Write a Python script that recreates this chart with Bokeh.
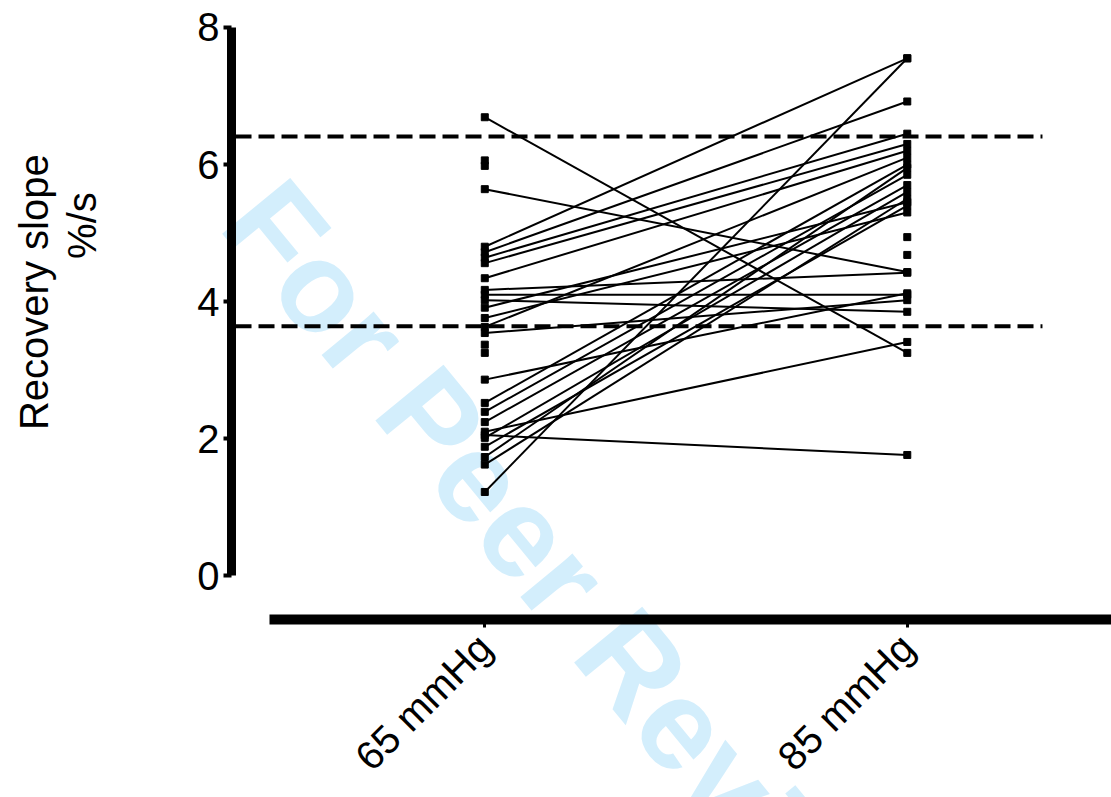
import math

from bokeh.core.properties import value
from bokeh.embed import file_html
from bokeh.models import ColumnDataSource, FixedTicker, LinearAxis, Range1d
from bokeh.plotting import figure
from bokeh.resources import INLINE

# Paired recovery slopes (%/s) per subject at the two pressure targets
groups = ["65 mmHg", "85 mmHg"]
slope_65 = [6.69, 5.64, 4.80, 1.22, 4.72, 4.64, 4.56, 4.34, 4.17, 4.10,
            4.02, 3.91, 3.76, 3.63, 3.54, 2.86, 2.52, 2.39, 2.24, 2.10,
            2.05, 2.01, 1.88, 1.73, 1.62]
slope_85 = [3.25, 4.43, 7.55, 7.55, 6.92, 6.45, 6.30, 6.20, 4.42, 4.10,
            3.85, 5.45, 5.30, 6.10, 4.02, 4.12, 6.00, 5.85, 5.70, 3.41,
            1.76, 5.60, 5.40, 5.95, 5.50]
# Subjects measured at only one of the two levels
only_65 = [6.06, 5.98, 3.37, 3.25]
only_85 = [4.94, 4.68]
# Reference band limits
ref_levels = [6.41, 3.64]
y_ticks = [0, 2, 4, 6, 8]
y_title = ["Recovery slope", "%/s"]

FONT = "Liberation Sans"
NBSP = "\u00a0"
n = len(slope_65)

p = figure(width=1111, height=797, output_backend="svg", toolbar_location=None,
           x_range=Range1d(-0.5995, 1.4834), y_range=Range1d(-0.6414, 8.102),
           x_axis_type=None, y_axis_type=None,
           min_border_left=231, min_border_right=0,
           min_border_top=20, min_border_bottom=177)
p.outline_line_color = None
p.grid.visible = False
p.background_fill_color = "white"
p.border_fill_color = "white"

# Faint diagonal watermark behind the data (drawn unclipped)
wm_src = ColumnDataSource(dict(x=[0.195], y=[-0.12], t=["For Peer Review"]))
p.text(x="x", y="y", text="t", source=wm_src, angle=-0.883,
       text_align="center", text_baseline="middle",
       text_font=value(FONT), text_font_size="128px", text_font_style="bold",
       text_color="#d3eefc", level="annotation")

# Reference band limits
ref_src = ColumnDataSource(dict(x0=[-0.59] * len(ref_levels),
                                x1=[1.32] * len(ref_levels), y=ref_levels))
p.segment(x0="x0", y0="y", x1="x1", y1="y", source=ref_src,
          line_color="black", line_width=4, line_dash="16 7", level="overlay")

# Paired lines between the two pressure levels
pair_src = ColumnDataSource(dict(x0=[0] * n, x1=[1] * n,
                                 y0=slope_65, y1=slope_85))
p.segment(x0="x0", y0="y0", x1="x1", y1="y1", source=pair_src,
          line_color="black", line_width=2, level="overlay")

pts_x = [0] * (n + len(only_65)) + [1] * (n + len(only_85))
pts_y = slope_65 + only_65 + slope_85 + only_85
p.scatter(pts_x, pts_y, marker="square", size=7, color="black", level="overlay")

# Two-line rotated title; leading no-break spaces nudge each line upward
title_text = NBSP * 5 + y_title[0] + "\n" + NBSP * 17 + y_title[1]

# Offset axes in the style of the original figure
yaxis = LinearAxis(ticker=FixedTicker(ticks=y_ticks), bounds=(0, 8),
                   axis_line_width=9, major_tick_line_width=4,
                   major_tick_out=8, major_tick_in=0,
                   minor_tick_line_color=None,
                   major_label_text_font=FONT,
                   major_label_text_font_size="40px",
                   major_label_text_color="black",
                   major_label_standoff=4,
                   axis_label=title_text,
                   axis_label_text_font=FONT,
                   axis_label_text_font_size="40px",
                   axis_label_text_font_style="normal",
                   axis_label_text_color="black",
                   axis_label_text_line_height=1.1,
                   axis_label_standoff=90,
                   level="overlay")
p.add_layout(yaxis, "left")

xaxis = LinearAxis(ticker=FixedTicker(ticks=[0, 1]), bounds=(-0.51, 1.4834),
                   major_label_overrides={0: groups[0], 1: groups[1]},
                   major_label_orientation=math.pi / 4,
                   axis_line_width=10, major_tick_line_width=3,
                   major_tick_out=8, major_tick_in=0,
                   minor_tick_line_color=None,
                   major_label_text_font=FONT,
                   major_label_text_font_size="40px",
                   major_label_text_color="black",
                   major_label_standoff=13,
                   level="overlay")
p.add_layout(xaxis, "below")

open("out.html", "w").write(file_html(p, INLINE))
